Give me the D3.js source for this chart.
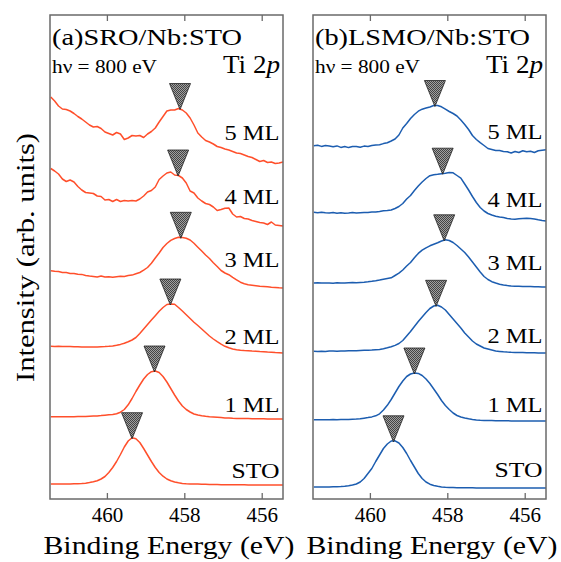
<!DOCTYPE html>
<html>
<head>
<meta charset="utf-8">
<script src="https://cdn.jsdelivr.net/npm/d3@7"></script>
<style>
  html, body { margin: 0; padding: 0; background: #fff; }
</style>
</head>
<body>
<div id="chart"></div>
<script>
// Binding energy grid (eV), shared by every spectrum
const energy = [461.45, 461.35, 461.25, 461.15, 461.05, 460.95, 460.85, 460.75, 460.65, 460.55,
  460.45, 460.35, 460.25, 460.15, 460.05, 459.95, 459.85, 459.75, 459.65, 459.55,
  459.45, 459.35, 459.25, 459.15, 459.05, 458.95, 458.85, 458.75, 458.65, 458.55,
  458.45, 458.35, 458.25, 458.15, 458.05, 457.95, 457.85, 457.75, 457.65, 457.55,
  457.45, 457.35, 457.25, 457.15, 457.05, 456.95, 456.85, 456.75, 456.65, 456.55,
  456.45, 456.35, 456.25, 456.15, 456.05, 455.95, 455.85, 455.75, 455.65, 455.55, 455.45];

// Spectrum labels, bottom to top
const layers = ["STO", "1 ML", "2 ML", "3 ML", "4 ML", "5 ML"];
const energyTicks = [460, 458, 456];

// (a) SRO/Nb:STO -- vertical offsets, peak positions (eV) and intensities (arb. units)
const sroOffsets = [14, 80, 146, 211, 273, 336];
const sroPeaks = [459.35, 458.77, 458.36, 458.09, 458.16, 458.11];
const sroSTO = [1.0, 1.0, 1.0, 1.0, 1.1, 1.1, 1.2, 1.3, 1.4, 1.8,
  2.4, 3.2, 4.3, 6.0, 8.5, 12.5, 17.5, 23.5, 30.5, 38,
  44, 47.3, 46.2, 42.5, 36.5, 30, 23.5, 17.5, 12.5, 8.8,
  6.0, 4.2, 3.0, 2.2, 1.6, 1.3, 1.1, 1.0, 0.9, 0.8,
  0.7, 0.6, 0.5, 0.4, 0.3, 0.3, 0.3, 0.2, 0.2, 0.2,
  0.2, 0.1, 0.1, 0.1, 0.1, 0, 0, 0, 0, 0, 0];
const sro1ML = [2.3, 2.3, 2.2, 2.3, 2.3, 2.2, 2.3, 2.4, 2.4, 2.5,
  2.7, 2.9, 3.1, 3.4, 3.8, 4.2, 4.5, 5.3, 6.8, 9.5,
  14.2, 20.5, 27.5, 34, 40, 44.5, 47.3, 48, 46.5, 42.5,
  37, 30.5, 24, 18, 13, 9.5, 7, 5, 4, 3.3,
  2.7, 2.3, 2, 1.7, 1.4, 1.1, 0.9, 0.7, 0.6, 0.5,
  0.4, 0.4, 0.3, 0.3, 0.2, 0.2, 0.1, 0.1, 0, 0, 0];
const sro2ML = [6.7, 6.6, 6.7, 6.5, 6.4, 6.5, 6.2, 6.3, 6.0, 5.9,
  6.1, 6.0, 6.0, 6.2, 6.4, 6.7, 7.1, 7.8, 8.6, 9.8,
  11.2, 13, 15.5, 19.5, 24, 28.5, 33, 37.3, 41.7, 45.5,
  48.5, 49, 48.8, 45.5, 42, 38.3, 34.5, 30.8, 27.5, 24,
  20.5, 17, 14, 11.3, 8.8, 6.7, 5.2, 4, 3.3, 2.8,
  2.5, 2.3, 2.0, 1.8, 1.5, 1.3, 1.0, 0.8, 0.5, 0.3, 0];
const sro3ML = [17.3, 16.8, 16.6, 15.6, 15.4, 14.6, 14.5, 13.8, 13.6, 12.5,
  12.0, 11.6, 11.0, 11.9, 11.0, 11.2, 10.8, 11.3, 11.8, 11.5,
  12.4, 12.9, 14.2, 15.5, 17.8, 20.5, 24.8, 30, 35, 40.5,
  44.5, 47.6, 49.5, 50.7, 50.5, 49.8, 48, 44.7, 40.8, 37,
  33, 29.5, 25.3, 21.5, 17.5, 15, 13.3, 10.6, 8.2, 5.8,
  4.3, 3.3, 2.8, 2.3, 1.8, 1.5, 1.2, 0.8, 0.6, 0.2, 0];
const sro4ML = [57.5, 55, 52, 47, 44.5, 46, 44, 39.5, 36, 33.5,
  33, 32.5, 30, 29.5, 26, 26.5, 24.5, 26.5, 24.5, 25.5,
  25, 25.5, 25, 27, 30, 34, 35.5, 39, 46.5, 50,
  53, 54, 51, 50.5, 48, 43, 35, 33, 28, 25,
  22.5, 21.5, 19, 15.5, 16.5, 17.8, 18, 12, 9, 9.5,
  7.5, 7, 5.5, 4.5, 3.5, 3, 1.5, 4, 1, 0.5, 0];
const sro5ML = [66, 62, 57, 54, 53.5, 52, 49.5, 46.5, 44, 41,
  38, 36, 36.5, 34.5, 31, 29.5, 28, 30.5, 29, 23.5,
  25, 27.5, 27, 27.5, 25.5, 29, 31.5, 35, 41, 46.5,
  52, 53, 53, 54.5, 53, 50, 45, 38, 30, 26,
  22.5, 21, 19, 16.5, 15.5, 14, 13, 11.5, 10, 9.5,
  8, 6.5, 5.5, 3.5, 1.5, 2.5, 0.5, 1, -0.5, 0, 1];

// (b) LSMO/Nb:STO
const lsmoOffsets = [11, 78, 146, 212, 278, 348];
const lsmoPeaks = [459.39, 458.85, 458.29, 458.08, 458.12, 458.32];
const lsmoSTO = [1.0, 1.0, 1.0, 1.1, 1.1, 1.2, 1.3, 1.5, 1.8, 2.3,
  3.0, 4.0, 6.0, 9.5, 14.5, 19.5, 26.5, 33, 39.5, 44,
  47, 47.2, 45, 40.5, 34.5, 27.5, 21, 14.5, 9.5, 6,
  3.8, 2.5, 1.7, 1.1, 0.7, 0.5, 0.4, 0.3, 0.3, 0.2,
  0.2, 0.2, 0.1, 0.1, 0.1, 0.1, 0, 0, 0, 0,
  0, 0, 0, 0, 0, 0, 0, 0, 0, 0, 0];
const lsmo1ML = [1.3, 1.3, 1.3, 1.3, 1.3, 1.4, 1.3, 1.4, 1.4, 1.5,
  1.7, 1.9, 2.2, 2.8, 3.4, 4.1, 5.2, 7.2, 11, 15.7,
  21.5, 28, 34.5, 40, 44.5, 47, 48, 47.6, 45.5, 42,
  37.5, 32, 26.5, 20.5, 15.5, 11.5, 8, 5.5, 4, 3,
  2.2, 1.6, 1.1, 0.8, 0.6, 0.5, 0.4, 0.3, 0.3, 0.2,
  0.2, 0.1, 0, 0, 0, 0, 0, 0, 0, 0, 0];
const lsmo2ML = [1.7, 1.5, 1.8, 1.6, 1.9, 2.0, 1.8, 2.1, 1.9, 2.2,
  2.3, 2.2, 2.5, 2.7, 2.8, 3.0, 3.3, 3.6, 4.3, 5.2,
  6.2, 7.6, 9.5, 12.5, 17, 21.5, 26.5, 31.5, 36, 40.5,
  44.5, 47, 47.7, 46, 43, 38.5, 34, 29.5, 25, 20,
  16, 12, 9, 7, 5, 4, 3, 2, 1.6, 1.2,
  0.9, 0.7, 0.6, 0.5, 0.4, 0.3, 0.3, 0.2, 0.1, 0.1, 0];
const lsmo3ML = [4.0, 4.2, 3.9, 4.1, 4.0, 3.8, 4.2, 4.1, 4.0, 4.3,
  4.4, 4.3, 4.6, 4.8, 5.2, 5.7, 6.3, 7, 7.8, 8.5,
  9.2, 11.5, 13.8, 17, 21, 24.5, 29.3, 33.6, 36.8, 39.2,
  41.2, 42.8, 44.3, 46, 47.2, 46.5, 44.5, 41.5, 38, 34.5,
  30, 25, 20, 15, 10.5, 7.5, 5.3, 4, 2.8, 2.0,
  1.4, 1.0, 0.8, 0.7, 0.6, 0.5, 0.4, 0.3, 0.2, 0.1, 0];
const lsmo4ML = [8.7, 8.3, 8.8, 8.2, 8.0, 8.4, 7.8, 8.2, 7.7, 8.0,
  8.4, 7.9, 8.3, 8.6, 8.4, 8.9, 9.1, 9.5, 10.2, 10.5,
  11, 12.5, 14.5, 17.5, 22, 25.5, 30.5, 35, 39, 42.5,
  45.3, 46.3, 46.7, 47.3, 47.8, 48.5, 48.2, 45.5, 42.8, 37,
  31, 24.5, 18.5, 13.5, 10, 7.5, 6, 4.8, 4, 3.4,
  2.5, 2, 1.8, 2.3, 2.6, 2.8, 2.4, 2.0, 1.2, 0.5, 0];
const lsmo5ML = [5.3, 5.8, 4.6, 5.5, 5.0, 4.2, 5.1, 3.6, 4.5, 3.4,
  4.4, 4.6, 3.8, 4.9, 4.6, 5.4, 5.9, 6.3, 7.4, 8.3,
  10, 12, 16, 23, 27.5, 32.5, 36.5, 39.8, 41.8, 43,
  44, 45.5, 45.5, 44.2, 41.8, 39.5, 37.5, 35, 31, 26.5,
  21.5, 15.5, 11.5, 8.3, 5.5, 2.5, 1.5, 0.5, 0.6, -0.4,
  -0.8, -2.0, -0.5, -1.5, 0.3, -0.8, -0.3, -1.5, 0.2, 0.8, 1.2];

// Layout
const w = 561;
const h = 562;
const plotTop = 15;
const plotBottom = 499;
const serif = "'Liberation Serif', 'Times New Roman', Times, serif";
const sroLabelLift = [7, 7, 9, 21, 22, 23];
const lsmoLabelLift = [11, 9, 10, 17, 14, 12];

const panels = [
  {
    x0: 50, x1: 283, color: "#ff4f2b",
    title: "(a)SRO/Nb:STO", titleLen: 190,
    offsets: sroOffsets, peaks: sroPeaks, lift: sroLabelLift,
    spectra: [sroSTO, sro1ML, sro2ML, sro3ML, sro4ML, sro5ML]
  },
  {
    x0: 313, x1: 546, color: "#1c5db0",
    title: "(b)LSMO/Nb:STO", titleLen: 215,
    offsets: lsmoOffsets, peaks: lsmoPeaks, lift: lsmoLabelLift,
    spectra: [lsmoSTO, lsmo1ML, lsmo2ML, lsmo3ML, lsmo4ML, lsmo5ML]
  }
];

const svg = d3.select("#chart")
  .append("svg")
  .attr("width", w)
  .attr("height", h)
  .attr("font-family", serif);

// Dithered grey fill for the peak markers
const pat = svg.append("defs").append("pattern")
  .attr("id", "dither")
  .attr("width", 2)
  .attr("height", 2)
  .attr("patternUnits", "userSpaceOnUse");
pat.append("rect").attr("width", 2).attr("height", 2).attr("fill", "#a0a0a0");
pat.append("rect").attr("width", 1).attr("height", 1).attr("fill", "#444");
pat.append("rect").attr("x", 1).attr("y", 1).attr("width", 1).attr("height", 1).attr("fill", "#444");

// Shared intensity scale (arb. units)
const yScale = d3.scaleLinear().domain([0, 484]).range([plotBottom, plotTop]);

panels.forEach((p) => {
  const xScale = d3.scaleLinear()
    .domain([461.47, 455.45])
    .range([p.x0, p.x1]);

  const g = svg.append("g");

  // Axes: inward ticks top and bottom, labels at bottom only
  g.append("g")
    .attr("transform", `translate(0, ${plotBottom})`)
    .call(d3.axisBottom(xScale).tickValues(energyTicks).tickSizeInner(-6).tickSizeOuter(0).tickPadding(8).tickFormat(d3.format("d")))
    .attr("font-family", serif)
    .call((a) => a.select(".domain").remove())
    .call((a) => a.selectAll(".tick line").attr("stroke", "#6a6a6a").attr("stroke-width", 1.3))
    .call((a) => a.selectAll(".tick text").attr("font-size", 21).attr("fill", "#000"));

  g.append("g")
    .attr("transform", `translate(0, ${plotTop})`)
    .call(d3.axisTop(xScale).tickValues(energyTicks).tickSizeInner(-6).tickSizeOuter(0).tickFormat(""))
    .call((a) => a.select(".domain").remove())
    .call((a) => a.selectAll(".tick line").attr("stroke", "#6a6a6a").attr("stroke-width", 1.3));

  // Spectra
  const line = d3.line()
    .x((d, i) => xScale(energy[i]));

  p.spectra.forEach((vals, k) => {
    g.append("path")
      .datum(vals)
      .attr("fill", "none")
      .attr("stroke", p.color)
      .attr("stroke-width", 1.5)
      .attr("stroke-linejoin", "round")
      .attr("d", line.y((d) => yScale(p.offsets[k] + d)));
  });

  // Peak markers
  p.spectra.forEach((vals, k) => {
    const near = vals.filter((v, i) => Math.abs(energy[i] - p.peaks[k]) <= 0.15);
    const tipX = xScale(p.peaks[k]);
    const tipY = yScale(p.offsets[k] + d3.max(near)) + 1;
    g.append("path")
      .attr("d", `M${tipX - 10.5},${tipY - 26}L${tipX + 10.5},${tipY - 26}L${tipX},${tipY}Z`)
      .attr("fill", "url(#dither)")
      .attr("stroke", "#222")
      .attr("stroke-width", 0.8);
  });

  // Spectrum labels
  layers.forEach((lab, k) => {
    g.append("text")
      .attr("x", p.x1 - 3.5)
      .attr("y", yScale(p.offsets[k]) - p.lift[k])
      .attr("text-anchor", "end")
      .attr("font-size", 21)
      .attr("textLength", lab === "STO" ? 48 : 55)
      .attr("lengthAdjust", "spacingAndGlyphs")
      .text(lab);
  });

  // Frame
  g.append("rect")
    .attr("x", p.x0)
    .attr("y", plotTop)
    .attr("width", p.x1 - p.x0)
    .attr("height", plotBottom - plotTop)
    .attr("fill", "none")
    .attr("stroke", "#6a6a6a")
    .attr("stroke-width", 1.5);

  // Panel texts
  g.append("text")
    .attr("x", p.x0 + 2)
    .attr("y", 45)
    .attr("font-size", 24)
    .attr("textLength", p.titleLen)
    .attr("lengthAdjust", "spacingAndGlyphs")
    .text(p.title);

  g.append("text")
    .attr("x", p.x0 + 2)
    .attr("y", 72.5)
    .attr("font-size", 18)
    .attr("textLength", 105)
    .attr("lengthAdjust", "spacingAndGlyphs")
    .text("hν = 800 eV");

  const ti = g.append("text")
    .attr("x", p.x1 - 3)
    .attr("y", 72.5)
    .attr("text-anchor", "end")
    .attr("font-size", 26)
    .attr("textLength", 57)
    .attr("lengthAdjust", "spacingAndGlyphs");
  ti.append("tspan").text("Ti 2");
  ti.append("tspan").attr("font-style", "italic").text("p");

  g.append("text")
    .attr("x", (p.x0 + p.x1) / 2 + 2.5)
    .attr("y", 554)
    .attr("text-anchor", "middle")
    .attr("font-size", 26)
    .attr("textLength", 251)
    .attr("lengthAdjust", "spacingAndGlyphs")
    .text("Binding Energy (eV)");
});

// Y axis title
svg.append("text")
  .attr("transform", "translate(33.5, 257.5) rotate(-90)")
  .attr("text-anchor", "middle")
  .attr("font-size", 26)
  .attr("textLength", 249)
  .attr("lengthAdjust", "spacingAndGlyphs")
  .text("Intensity (arb. units)");
</script>
</body>
</html>
